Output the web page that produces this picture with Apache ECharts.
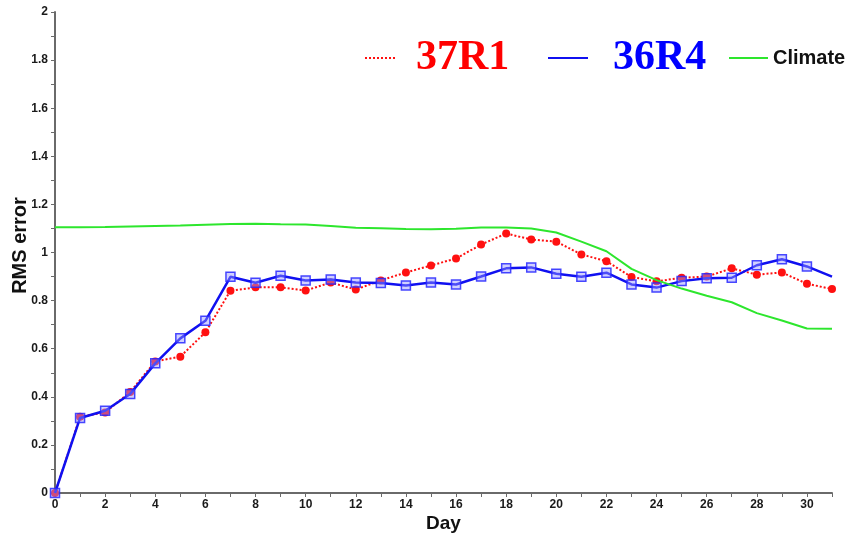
<!DOCTYPE html>
<html>
<head>
<meta charset="utf-8">
<script src="https://cdn.jsdelivr.net/npm/echarts@6/dist/echarts.min.js"></script>
<style>
  html, body { margin: 0; padding: 0; background: #ffffff; }
  #chart { width: 850px; height: 538px; }
</style>
</head>
<body>
<div id="chart"></div>
<script>
// Forecast day (x) for every sample
var days = [0, 1, 2, 3, 4, 5, 6, 7, 8, 9, 10, 11, 12, 13, 14, 15,
            16, 17, 18, 19, 20, 21, 22, 23, 24, 25, 26, 27, 28, 29, 30, 31];

// RMS error, cycle 37R1
var rms37R1 = [0, 0.317, 0.335, 0.42, 0.547, 0.567, 0.668, 0.841, 0.855, 0.855, 0.842, 0.875,
               0.846, 0.884, 0.917, 0.946, 0.975, 1.033, 1.079, 1.054, 1.045, 0.992, 0.964,
               0.898, 0.88, 0.895, 0.9, 0.934, 0.908, 0.917, 0.87, 0.848];

// RMS error, cycle 36R4
var rms36R4 = [0, 0.312, 0.342, 0.412, 0.539, 0.643, 0.716, 0.899, 0.874, 0.903, 0.884, 0.888,
               0.875, 0.873, 0.863, 0.875, 0.867, 0.9, 0.934, 0.938, 0.912, 0.899, 0.916,
               0.867, 0.854, 0.881, 0.893, 0.895, 0.947, 0.972, 0.942, 0.9];

// RMS error of climatology
var rmsClimate = [1.105, 1.105, 1.106, 1.108, 1.11, 1.112, 1.115, 1.118, 1.12, 1.117, 1.116, 1.11,
                  1.103, 1.101, 1.098, 1.097, 1.099, 1.104, 1.104, 1.1, 1.083, 1.045, 1.005,
                  0.932, 0.885, 0.85, 0.82, 0.793, 0.748, 0.717, 0.684, 0.683];

var seriesNames = ['37R1', '36R4', 'Climate'];
var xAxisTitle = 'Day';
var yAxisTitle = 'RMS error';

function pairs(values) {
  return days.map(function (d, i) { return [d, values[i]]; });
}

var blueData = pairs(rms36R4);
// last day of 36R4 is drawn without a marker
blueData[blueData.length - 1] = { value: blueData[blueData.length - 1], symbol: 'none' };

var sansBold = { fontFamily: '"Liberation Sans", Arial, sans-serif', fontWeight: 'bold' };

var chart = echarts.init(document.getElementById('chart'));
chart.setOption({
  backgroundColor: '#ffffff',
  animation: false,
  grid: { left: 55, right: 18, top: 12, bottom: 45, containLabel: false, outerBoundsMode: 'none' },
  legend: [
    {
      data: [seriesNames[0]], left: 364, top: 37, padding: 0,
      itemWidth: 30, itemHeight: 14,
      itemStyle: { opacity: 0 },
      textStyle: { fontFamily: '"Liberation Serif", "Times New Roman", serif', fontWeight: 'bold',
                   fontSize: 42, lineHeight: 42, color: '#ff0000', padding: [0, 0, 0, 16] }
    },
    {
      data: [seriesNames[1]], left: 547, top: 37, padding: 0,
      itemWidth: 40, itemHeight: 14,
      itemStyle: { opacity: 0 },
      textStyle: { fontFamily: '"Liberation Serif", "Times New Roman", serif', fontWeight: 'bold',
                   fontSize: 42, lineHeight: 42, color: '#0000ff', padding: [0, 0, 0, 20] }
    },
    {
      data: [seriesNames[2]], left: 728, top: 48, padding: 0,
      itemWidth: 39, itemHeight: 14,
      itemStyle: { opacity: 0 },
      textStyle: Object.assign({ fontSize: 20, lineHeight: 20, color: '#111111' }, sansBold)
    }
  ],
  xAxis: {
    type: 'value', min: 0, max: 31, interval: 1,
    name: xAxisTitle, nameLocation: 'middle', nameGap: 21, nameMoveOverlap: false,
    nameTextStyle: Object.assign({ fontSize: 19, color: '#111111' }, sansBold),
    axisLine: { show: true, onZero: false, lineStyle: { color: '#6a6a6a', width: 2 } },
    axisTick: { show: true, inside: false, length: 4, lineStyle: { color: '#6a6a6a', width: 1 } },
    axisLabel: Object.assign({
      fontSize: 12, color: '#1a1a1a', margin: 6,
      formatter: function (v) { return (Math.round(v) % 2 === 0) ? String(Math.round(v)) : ''; }
    }, sansBold),
    splitLine: { show: false }
  },
  yAxis: {
    type: 'value', min: 0, max: 2, interval: 0.1,
    name: yAxisTitle, nameLocation: 'middle', nameGap: 25, nameRotate: 90, nameMoveOverlap: false,
    nameTextStyle: Object.assign({ fontSize: 20, color: '#111111', padding: [0, 0, 0, 14] }, sansBold),
    axisLine: { show: true, onZero: false, lineStyle: { color: '#6a6a6a', width: 2 } },
    axisTick: { show: true, inside: false, length: 4, lineStyle: { color: '#6a6a6a', width: 1 } },
    axisLabel: Object.assign({
      fontSize: 12, color: '#1a1a1a', margin: 7,
      formatter: function (v) {
        var t = Math.round(v * 10);
        return (t % 2 === 0) ? String(+(t / 10).toFixed(1)) : '';
      }
    }, sansBold),
    splitLine: { show: false }
  },
  series: [
    {
      name: seriesNames[0], type: 'line', data: pairs(rms37R1), z: 3,
      symbol: 'circle', symbolSize: 8,
      lineStyle: { color: '#ff1010', width: 2, type: 'dotted' },
      itemStyle: { color: '#ff1010' }
    },
    {
      name: seriesNames[1], type: 'line', data: blueData, z: 4,
      symbol: 'rect', symbolSize: 9,
      lineStyle: { color: '#1010f0', width: 2.5, type: 'solid' },
      itemStyle: { color: 'rgba(150,150,255,0.45)', borderColor: 'rgba(40,40,255,0.85)', borderWidth: 1.5 }
    },
    {
      name: seriesNames[2], type: 'line', data: pairs(rmsClimate), z: 5,
      symbol: 'none',
      lineStyle: { color: '#2de62d', width: 2, type: 'solid' },
      itemStyle: { color: '#2de62d' }
    }
  ]
});
</script>
</body>
</html>
